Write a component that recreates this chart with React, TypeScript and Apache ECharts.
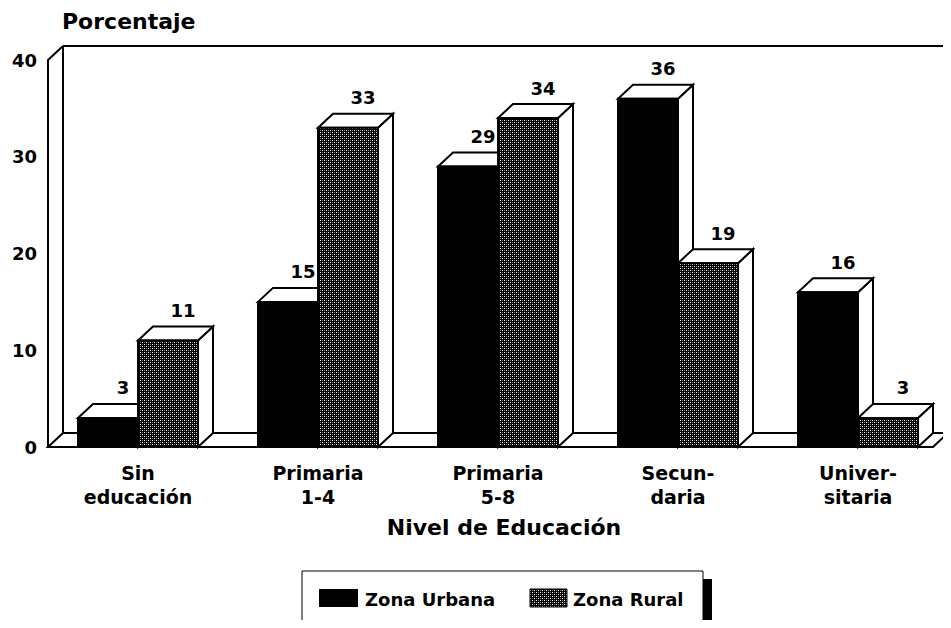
import React, { useEffect, useRef } from "react";
import * as echarts from "echarts";

const categories = ["Sin\neducación", "Primaria\n1-4", "Primaria\n5-8", "Secun-\ndaria", "Univer-\nsitaria"];
const seriesNames = ["Zona Urbana", "Zona Rural"];
const urbanValues = [3, 15, 29, 36, 16];
const ruralValues = [11, 33, 34, 19, 3];
const yMin = 0;
const yMax = 40;
const yInterval = 10;
const yAxisTitle = "Porcentaje";
const xAxisTitle = "Nivel de Educación";

const FONT = "'DejaVu Sans', sans-serif";
const DX = 15;
const DY = 14;

function makePattern(): string {
  const c = document.createElement("canvas");
  c.width = 4;
  c.height = 4;
  const ctx = c.getContext("2d");
  if (!ctx) return "";
  ctx.fillStyle = "#000";
  ctx.fillRect(0, 0, 4, 4);
  ctx.fillStyle = "#fff";
  ctx.fillRect(0, 0, 1, 1);
  ctx.fillRect(2, 2, 1, 1);
  ctx.fillStyle = "#777";
  ctx.fillRect(2, 0, 1, 1);
  ctx.fillRect(0, 2, 1, 1);
  return c.toDataURL();
}

export default function App() {
  const ref = useRef<HTMLDivElement>(null);

  useEffect(() => {
    if (!ref.current) return;
    const chart = echarts.init(ref.current, null, { renderer: "svg" });
    const img = makePattern();
    const pattern: any = img ? { image: img, repeat: "repeat" } : "#333";
    const line = { stroke: "#000", lineWidth: 2 };

    const makeBar = (slot: number, fill: any) => (params: any, api: any) => {
      const idx = api.value(0);
      const val = api.value(1);
      const top = api.coord([idx, val]);
      const base = api.coord([idx, yMin]);
      const band = api.size([1, 0])[0];
      const w = band / 3;
      const x0 = top[0] - w + slot * w;
      const x1 = x0 + w;
      const yt = top[1];
      const yb = base[1];
      return {
        type: "group",
        children: [
          {
            type: "polygon",
            shape: { points: [[x1, yb], [x1 + DX, yb - DY], [x1 + DX, yt - DY], [x1, yt]] },
            style: { fill: "#fff", ...line },
          },
          {
            type: "polygon",
            shape: { points: [[x0, yt], [x0 + DX, yt - DY], [x1 + DX, yt - DY], [x1, yt]] },
            style: { fill: "#fff", ...line },
          },
          {
            type: "rect",
            shape: { x: x0, y: yt, width: w, height: yb - yt },
            style: { fill, ...line },
          },
          {
            type: "text",
            style: {
              text: String(val),
              x: (x0 + x1) / 2 + DX,
              y: yt - DY - 16,
              align: "center",
              verticalAlign: "middle",
              fontFamily: FONT,
              fontSize: 18,
              fontWeight: "bold",
              fill: "#000",
            },
          },
        ],
      };
    };

    const frame = (params: any, api: any) => {
      const band = api.size([1, 0])[0];
      const p0 = api.coord([0, yMin]);
      const pTop = api.coord([0, yMax]);
      const pEnd = api.coord([categories.length - 1, yMin]);
      const left = p0[0] - band / 2;
      const right = pEnd[0] + band / 2;
      const yb = p0[1];
      const yt = pTop[1];
      return {
        type: "group",
        children: [
          {
            type: "polygon",
            shape: { points: [[left, yb], [right - DX, yb], [right, yb - DY], [left + DX, yb - DY]] },
            style: { fill: "#fff", ...line },
          },
          { type: "line", shape: { x1: left + DX, y1: yb - DY, x2: left + DX, y2: yt - DY }, style: line },
          { type: "line", shape: { x1: left + DX, y1: yt - DY, x2: right + DX + 20, y2: yt - DY }, style: line },
          { type: "line", shape: { x1: left, y1: yt, x2: left + DX, y2: yt - DY }, style: line },
        ],
      };
    };

    chart.setOption({
      animation: false,
      backgroundColor: "#fff",
      title: {
        text: yAxisTitle,
        left: 62,
        top: 10,
        padding: 0,
        textStyle: { fontFamily: FONT, fontSize: 22, fontWeight: "bold", color: "#000" },
      },
      grid: { left: 48, right: 3, top: 60, bottom: 181, containLabel: false },
      xAxis: {
        type: "category",
        data: categories,
        axisLine: { show: false },
        axisTick: { show: false },
        splitLine: { show: false },
        axisLabel: {
          color: "#000",
          fontFamily: FONT,
          fontWeight: "bold",
          fontSize: 19,
          lineHeight: 24,
          margin: 14,
          interval: 0,
        },
      },
      yAxis: {
        type: "value",
        min: yMin,
        max: yMax,
        interval: yInterval,
        axisLine: { show: true, lineStyle: { color: "#000", width: 2 } },
        axisTick: { show: false },
        splitLine: { show: false },
        axisLabel: { color: "#000", fontFamily: FONT, fontWeight: "bold", fontSize: 18, margin: 11 },
      },
      series: [
        { type: "custom", name: "frame", z: 1, silent: true, clip: false, renderItem: frame, data: [[0, 0]], encode: { x: 0, y: 1 } },
        {
          type: "custom",
          name: seriesNames[0],
          z: 2,
          clip: false,
          renderItem: makeBar(0, "#000"),
          data: urbanValues.map((v, i) => [i, v]),
          encode: { x: 0, y: 1 },
        },
        {
          type: "custom",
          name: seriesNames[1],
          z: 3,
          clip: false,
          renderItem: makeBar(1, pattern),
          data: ruralValues.map((v, i) => [i, v]),
          encode: { x: 0, y: 1 },
        },
      ],
      graphic: [
        {
          type: "text",
          x: 504,
          y: 527,
          style: {
            text: xAxisTitle,
            align: "center",
            verticalAlign: "middle",
            fontFamily: FONT,
            fontSize: 22,
            fontWeight: "bold",
            fill: "#000",
          },
        },
        { type: "rect", shape: { x: 310, y: 579, width: 402, height: 52 }, style: { fill: "#000" } },
        { type: "rect", shape: { x: 302, y: 571, width: 401, height: 51 }, style: { fill: "#fff", stroke: "#000", lineWidth: 1 } },
        { type: "rect", shape: { x: 319, y: 589, width: 39, height: 18 }, style: { fill: "#000" } },
        {
          type: "text",
          x: 365,
          y: 599,
          style: {
            text: seriesNames[0],
            align: "left",
            verticalAlign: "middle",
            fontFamily: FONT,
            fontSize: 18,
            fontWeight: "bold",
            fill: "#000",
          },
        },
        { type: "rect", shape: { x: 530, y: 589, width: 37, height: 18 }, style: { fill: pattern, stroke: "#000", lineWidth: 1 } },
        {
          type: "text",
          x: 573,
          y: 599,
          style: {
            text: seriesNames[1],
            align: "left",
            verticalAlign: "middle",
            fontFamily: FONT,
            fontSize: 18,
            fontWeight: "bold",
            fill: "#000",
          },
        },
      ],
    });

    return () => chart.dispose();
  }, []);

  return <div ref={ref} style={{ width: 951, height: 628, margin: -8 }} />;
}
